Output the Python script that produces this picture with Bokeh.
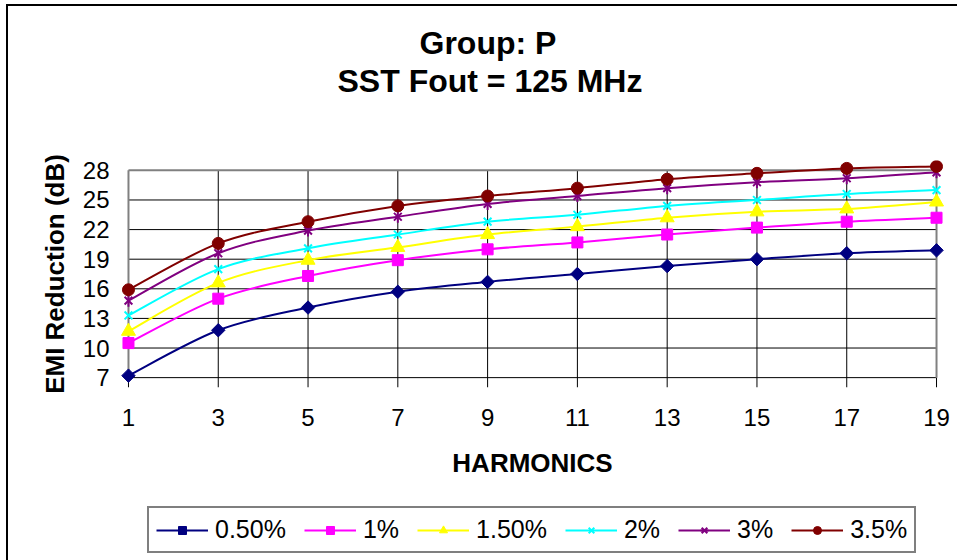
import numpy as np
from bokeh.plotting import figure
from bokeh.layouts import column
from bokeh.models import Range1d, FixedTicker, Legend, LegendItem, Title
from bokeh.embed import file_html
from bokeh.resources import INLINE

# ---------------- data ----------------
harmonics = [1, 3, 5, 7, 9, 11, 13, 15, 17, 19]
y_ticks = [7, 10, 13, 16, 19, 22, 25, 28]
series_names = ["0.50%", "1%", "1.50%", "2%", "3%", "3.5%"]
s_0_50 = [7.2, 11.8, 14.1, 15.7, 16.7, 17.5, 18.3, 19.0, 19.6, 19.9]
s_1_00 = [10.5, 15.0, 17.3, 18.9, 20.0, 20.7, 21.5, 22.2, 22.8, 23.2]
s_1_50 = [11.7, 16.6, 18.9, 20.2, 21.5, 22.3, 23.2, 23.8, 24.1, 24.8]
s_2_00 = [13.3, 18.0, 20.1, 21.5, 22.8, 23.5, 24.4, 25.0, 25.6, 26.0]
s_3_00 = [14.8, 19.6, 21.9, 23.3, 24.6, 25.4, 26.2, 26.8, 27.2, 27.8]
s_3_50 = [15.9, 20.6, 22.8, 24.4, 25.4, 26.2, 27.1, 27.7, 28.2, 28.4]
title_line1 = "Group: P"
title_line2 = "SST Fout = 125 MHz"
x_title = "HARMONICS"
y_title = "EMI Reduction (dB)"

all_series = [s_0_50, s_1_00, s_1_50, s_2_00, s_3_00, s_3_50]
colors = ["#000080", "#FF00FF", "#FFFF00", "#00FFFF", "#800080", "#800000"]
marker_specs = [
    [dict(marker="square", angle=np.pi / 4, size=9.5, fill=True)],
    [dict(marker="square", angle=0.0, size=11, fill=True)],
    [dict(marker="triangle", angle=0.0, size=14, fill=True)],
    [dict(marker="x", angle=0.0, size=11, fill=False)],
    [dict(marker="x", angle=0.0, size=11, fill=False),
     dict(marker="dash", angle=np.pi / 2, size=12, fill=False)],
    [dict(marker="circle", angle=0.0, size=12, fill=True)],
]

FONT = "Liberation Sans"
X_LO, X_HI = 0.8, 19.2
Y_LO, Y_HI = 6, 29
W = 949

p = figure(width=W, height=490, output_backend="svg", toolbar_location=None,
           x_range=Range1d(X_LO, X_HI), y_range=Range1d(Y_LO, Y_HI),
           min_border_left=111, min_border_right=12,
           min_border_top=154, min_border_bottom=109)
p.outline_line_color = None
p.background_fill_color = "white"
p.border_fill_color = "white"
p.grid.visible = False

# titles: spacer (nearest the frame), then line 2, then line 1 (outermost)
spacer = Title(text=" ", text_font_size="1px", standoff=59)
t2 = Title(text=title_line2)
p.title.text = title_line1
for t, off in ((p.title, 300), (t2, 218)):
    t.text_font = FONT
    t.text_font_size = "32px"
    t.text_font_style = "bold"
    t.text_color = "black"
    t.align = "left"
    t.offset = off
    t.standoff = 0
    t.vertical_align = "bottom"
p.add_layout(spacer, "above")
p.add_layout(t2, "above")

# axes
p.xaxis.ticker = FixedTicker(ticks=harmonics)
p.yaxis.ticker = FixedTicker(ticks=y_ticks)
for ax in (p.xaxis[0], p.yaxis[0]):
    ax.axis_line_color = None
    ax.major_tick_line_color = None
    ax.major_tick_out = 0
    ax.major_tick_in = 0
    ax.minor_tick_line_color = None
    ax.minor_tick_out = 0
    ax.major_label_text_font = FONT
    ax.major_label_text_font_size = "24px"
    ax.major_label_text_color = "black"
    ax.axis_label_text_font = FONT
    ax.axis_label_text_font_size = "26px"
    ax.axis_label_text_font_style = "bold"
    ax.axis_label_text_color = "black"
p.xaxis.axis_label = x_title
p.yaxis.axis_label = y_title
p.xaxis.major_label_standoff = 21
p.xaxis.axis_label_standoff = 19
p.yaxis.major_label_standoff = 10
p.yaxis.axis_label_standoff = 10

# grid lines drawn from tick lists
x_first, x_last = harmonics[0], harmonics[-1]
y_first, y_last = y_ticks[0], y_ticks[-1]
inner_y = y_ticks[:-1]
p.segment(x0=[x_first] * len(inner_y), y0=inner_y, x1=[x_last] * len(inner_y), y1=inner_y,
          line_color="black", line_width=1)
inner_x = harmonics[1:-1]
p.segment(x0=inner_x, y0=[Y_LO] * len(inner_x), x1=inner_x, y1=[y_last] * len(inner_x),
          line_color="black", line_width=1)
edge_x = [x_first, x_last]
p.segment(x0=edge_x, y0=[Y_LO] * 2, x1=edge_x, y1=[y_first] * 2,
          line_color="black", line_width=1)
p.segment(x0=edge_x + [x_first], y0=[y_first, y_first, y_last],
          x1=edge_x + [x_last], y1=[y_last, y_last, y_last],
          line_color="#808080", line_width=2)


def smooth_controls(xs, ys):
    P = np.column_stack([xs, ys]).astype(float)
    n = len(P)
    Pm = np.vstack([P[0], P, P[-1]])
    c0 = P[:-1] + (Pm[2:n + 1] - Pm[0:n - 1]) / 6.0
    c1 = P[1:] - (Pm[3:n + 2] - Pm[1:n]) / 6.0
    return P[:-1], P[1:], c0, c1


def add_markers(fig, ys, col, specs):
    out = []
    for sp in specs:
        if sp["fill"]:
            out.append(fig.scatter(harmonics, ys, marker=sp["marker"], angle=sp["angle"],
                                   size=sp["size"], fill_color=col, line_color=col))
        else:
            out.append(fig.scatter(harmonics, ys, marker=sp["marker"], angle=sp["angle"],
                                   size=sp["size"], line_color=col, line_width=2))
    return out


for ys, col, specs in zip(all_series, colors, marker_specs):
    a, b, c0, c1 = smooth_controls(harmonics, ys)
    p.bezier(x0=a[:, 0], y0=a[:, 1], x1=b[:, 0], y1=b[:, 1],
             cx0=c0[:, 0], cy0=c0[:, 1], cx1=c1[:, 0], cy1=c1[:, 1],
             line_color=col, line_width=2)
    add_markers(p, ys, col, specs)

# ---------------- legend strip (second figure, same series) ----------------
p2 = figure(width=W, height=64, output_backend="svg", toolbar_location=None,
            x_axis_type=None, y_axis_type=None, min_border=0,
            x_range=Range1d(-3, -2), y_range=Range1d(-3, -2))
p2.outline_line_color = None
p2.grid.visible = False
p2.background_fill_color = "white"
p2.border_fill_color = "white"

items = []
for name, ys, col, specs in zip(series_names, all_series, colors, marker_specs):
    ln = p2.line(harmonics, ys, line_color=col, line_width=2)
    ms = add_markers(p2, ys, col, specs)
    items.append(LegendItem(label=name, renderers=[ln] + ms))

legend = Legend(items=items, orientation="horizontal", location=(28, 7),
                label_text_font=FONT, label_text_font_size="25px",
                label_text_color="black",
                glyph_width=52, glyph_height=20, label_standoff=7, spacing=18,
                padding=7, margin=0,
                border_line_color="black", border_line_width=2,
                background_fill_color="white", background_fill_alpha=1)
p2.add_layout(legend, "center")

layout = column(p, p2, spacing=0,
                styles={"margin-left": "6px", "margin-top": "4px",
                        "border-left": "2px solid black", "border-top": "2px solid black"})

open("out.html", "w").write(file_html(layout, INLINE))
